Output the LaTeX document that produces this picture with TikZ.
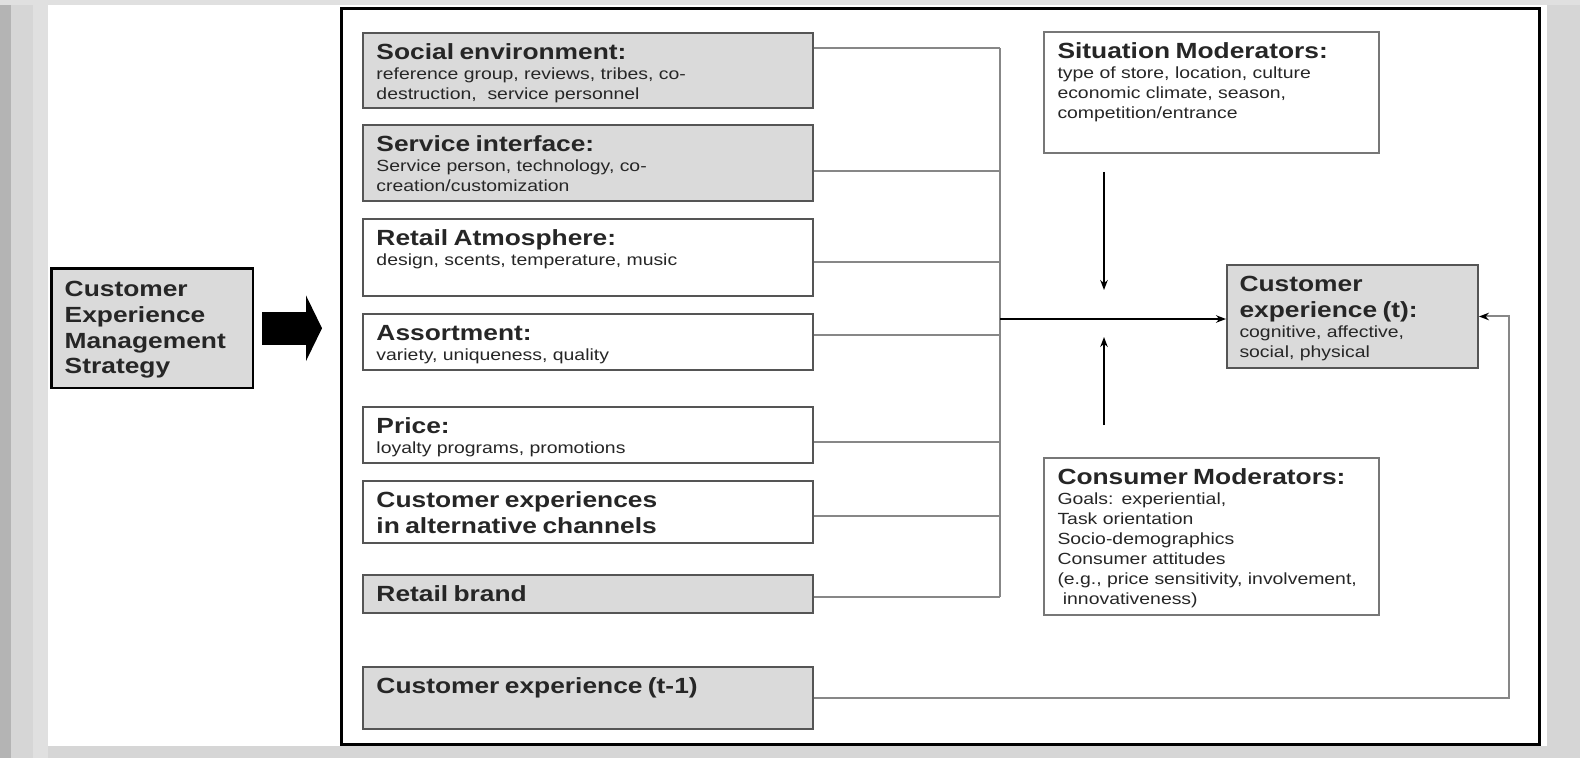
\documentclass[tikz,border=0pt]{standalone}
\usepackage{fontspec}
\setmainfont{Liberation Sans}[FakeStretch=1.2]
\usetikzlibrary{arrows.meta}
\definecolor{PageGray}{RGB}{214,214,214}
\definecolor{EdgeGray}{RGB}{180,180,180}
\definecolor{SoftGray}{RGB}{224,224,224}
\definecolor{BoxFill}{RGB}{218,218,218}
\definecolor{BoxLine}{RGB}{85,85,85}
\definecolor{BusLine}{RGB}{135,135,135}
\newcommand{\ttlfont}{\fontsize{12.5}{14.6}\bfseries\selectfont}
\newcommand{\subfont}{\fontsize{9.2}{11.4}\selectfont}

\begin{document}
\begin{tikzpicture}[x=0.02cm, y=-0.02cm,
        fbox/.style={draw=BoxLine, line width=0.04cm, anchor=north west,
                     align=left, inner xsep=0.27cm, inner ysep=0.22cm,
                     text height=0.315cm, font=\subfont, text=black!85},
        gbox/.style={fbox, fill=BoxFill},
        lbox/.style={text width=8.46cm},
        mbox/.style={text width=6.16cm},
        conn/.style={BusLine, line width=0.04cm},
        arr/.style={-{Stealth[length=0.2cm,width=0.15cm]}, line width=0.045cm},
        bigarr/.style={-{Triangle[length=0.32cm,width=1.3cm]}, line width=0.66cm}
      ]
        \useasboundingbox (0,0) rectangle (1580,758);
        \fill[PageGray] (0,0) rectangle (1580,758);
        \fill[EdgeGray] (0,0) rectangle (11,758);
        \fill[SoftGray] (33,0) rectangle (48,758);
        \fill[SoftGray] (0,0) rectangle (1580,5);
        \fill[white] (48,5) rectangle (1547,746);

        \node[draw, line width=0.06cm, anchor=north west, inner sep=0pt,
              minimum width=23.96cm, minimum height=14.72cm] (frame) at (340,7) {};

        \node[gbox, draw=black, line width=0.05cm, text width=3.5cm, inner ysep=0.26cm,
              text depth=1.565cm] (cems) at (50,267)
              {{\ttlfont Customer\\Experience\\Management\\Strategy\par}};

        \node[gbox, lbox, text depth=0.745cm] (soc) at (362,32)
              {{\ttlfont Social environment:}\par
               reference group, reviews, tribes, co-\\destruction,\ \ service personnel};
        \node[gbox, lbox, text depth=0.765cm] (srv) at (362,124)
              {{\ttlfont Service interface:}\par
               Service person, technology, co-\\creation/customization};
        \node[fbox, lbox, text depth=0.785cm] (atm) at (362,218)
              {{\ttlfont Retail Atmosphere:}\par design, scents, temperature, music};
        \node[fbox, lbox, text depth=0.365cm] (ast) at (362,313)
              {{\ttlfont Assortment:}\par variety, uniqueness, quality};
        \node[fbox, lbox, text depth=0.365cm] (prc) at (362,406)
              {{\ttlfont Price:}\par loyalty programs, promotions};
        \node[fbox, lbox, text depth=0.485cm] (alt) at (362,480)
              {{\ttlfont Customer experiences\\in alternative channels\par}};
        \node[gbox, lbox, text depth=0cm] (brd) at (362,574)
              {\ttlfont Retail brand};
        \node[gbox, lbox, text depth=0.485cm] (prev) at (362,666)
              {\ttlfont Customer experience (t-1)};

        \node[fbox, mbox, draw=BoxLine!80, text depth=1.665cm] (sit) at (1043,31)
              {{\ttlfont Situation Moderators:}\par
               type of store, location, culture\\economic climate, season,\\competition/entrance};
        \node[fbox, mbox, draw=BoxLine!80, text depth=2.385cm] (con) at (1043,457)
              {{\ttlfont Consumer Moderators:}\par
               Goals: experiential,\\Task orientation\\Socio-demographics\\Consumer attitudes\\
               (e.g., price sensitivity, involvement,\\\ innovativeness)};
        \node[gbox, text width=4.52cm, inner xsep=0.25cm, text depth=1.305cm] (cet) at (1226,264)
              {{\ttlfont Customer\\experience (t):\par}
               cognitive, affective,\\social, physical};

        \coordinate (bustop) at (1000,48);
        \coordinate (busbot) at (1000,597);
        \coordinate (hub) at (1000,319);
        \coordinate (mid) at (1104,319);
        \coordinate (fbx) at (1509,0);

        \draw[bigarr, shorten <=0.16cm, shorten >=0.36cm] (cems.east) -- (cems.east -| frame.west);

        \draw[conn] (bustop) -- (busbot);
        \foreach \n/\y in {soc/48, srv/171, atm/262, ast/335, prc/442, alt/516, brd/597} {
          \path (0,\y) coordinate (yy);
          \draw[conn] (\n.east |- yy) -- (bustop |- yy);
        }

        \draw[arr] (hub) -- (hub -| cet.west);
        \draw[arr, shorten <=0.36cm, shorten >=0.58cm] (sit.south -| mid) -- (mid);
        \draw[arr, shorten <=0.64cm, shorten >=0.36cm] (con.north -| mid) -- (mid);
        \draw[conn, -{Stealth[black,length=0.2cm,width=0.15cm]}]
              (prev.east) -| (fbx |- cet.east) -- (cet.east);
      \end{tikzpicture}
\end{document}
